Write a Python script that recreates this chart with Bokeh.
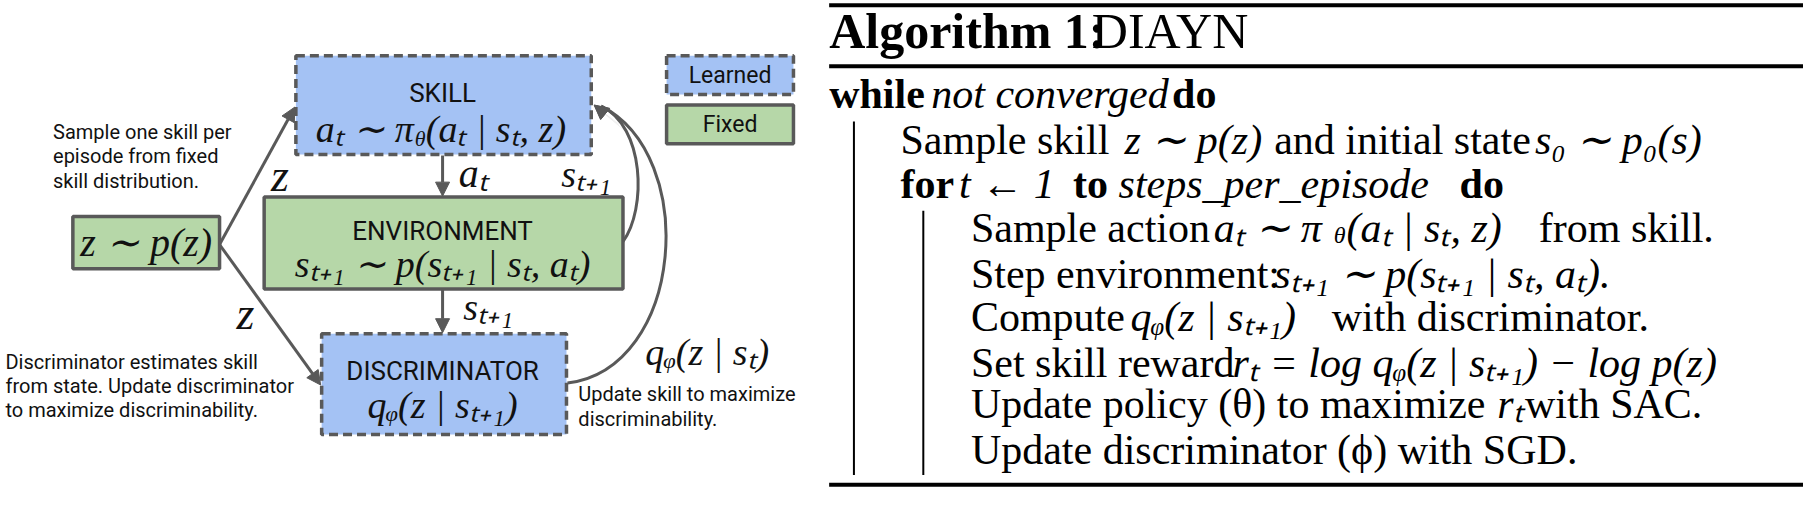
from bokeh.plotting import figure
from bokeh.models import Range1d, Arrow, NormalHead
from bokeh.core.properties import value
from bokeh.embed import file_html
from bokeh.resources import INLINE

# boxes: name, left, top, right, bottom, kind
box_names = ["skill", "environment", "discriminator", "prior", "learned", "fixed"]
box_left = [298, 266, 324, 73, 672, 672]
box_top = [57, 203, 344, 223, 57, 108]
box_right = [596, 628, 571, 221, 800, 800]
box_bottom = [159, 298, 448, 277, 97, 148]
box_kind = ["learned", "fixed", "learned", "fixed", "learned", "fixed"]

BLUE = "#a4c2f4"
GREEN = "#b6d7a8"
EDGE = "#595959"

SANS = "Roboto"
MATH = "Liberation Serif"
SERIF = "Liberation Serif"

p = figure(width=1803, height=492, output_backend="svg", toolbar_location=None,
           x_range=Range1d(0, 1819), y_range=Range1d(508, 0), min_border=0)
p.axis.visible = False
p.grid.visible = False
p.outline_line_color = None


def put(x, y, s, size, font=SANS, style="normal", align="left", base="middle", color="#111111"):
    p.text(x=[x], y=[y], text=[s], text_font=value(font), text_font_size=value(f"{size}px"),
           text_font_style=style, text_align=align, text_baseline=base, text_color=color)


for n, l, t, r, b, k in zip(box_names, box_left, box_top, box_right, box_bottom, box_kind):
    p.quad(left=[l], right=[r], top=[t], bottom=[b],
           fill_color=BLUE if k == "learned" else GREEN,
           line_color=EDGE, line_width=3.5,
           line_dash="9 5" if k == "learned" else "solid")

# straight arrows
arrow_x0 = [221, 221, 446, 446]
arrow_y0 = [252, 252, 160, 299]
arrow_x1 = [297, 323, 446, 446]
arrow_y1 = [110, 397, 202, 343]
for x0, y0, x1, y1 in zip(arrow_x0, arrow_y0, arrow_x1, arrow_y1):
    p.add_layout(Arrow(end=NormalHead(size=14, fill_color=EDGE, line_color=EDGE),
                       x_start=x0, y_start=y0, x_end=x1, y_end=y1,
                       line_color=EDGE, line_width=3))

# curved feedback arrows
p.bezier(x0=[628, 572], y0=[249, 395], x1=[606, 606], y1=[109, 109],
         cx0=[652, 690], cy0=[215, 380], cx1=[650, 705], cy1=[130, 160],
         line_color=EDGE, line_width=3)
for cx, cy in [(624, 128), (634, 138)]:
    p.add_layout(Arrow(end=NormalHead(size=14, fill_color=EDGE, line_color=EDGE),
                       x_start=cx, y_start=cy, x_end=599, y_end=108,
                       line_color=EDGE, line_width=0.1))

# box texts
put(446, 96, "SKILL", 26, align="center")
put(417, 133, "aₜ ∼ π", 38, MATH, "italic", "right")
put(418, 143, "θ", 22, MATH, "italic")
put(429, 133, "(aₜ | sₜ, z)", 38, MATH, "italic")
put(446, 238, "ENVIRONMENT", 26, align="center")
put(446, 272, "sₜ₊₁ ∼ p(sₜ₊₁ | sₜ, aₜ)", 38, MATH, "italic", "center")
put(446, 383, "DISCRIMINATOR", 26, align="center")
put(446, 418, "qᵩ(z | sₜ₊₁)", 38, MATH, "italic", "center")
put(147, 250, "z ∼ p(z)", 40, MATH, "italic", "center")
put(736, 77, "Learned", 23, align="center")
put(736, 128, "Fixed", 23, align="center")

# arrow labels
put(282, 181, "z", 46, MATH, "italic", "center")
put(247, 323, "z", 46, MATH, "italic", "center")
put(477, 179, "aₜ", 40, MATH, "italic", "center")
put(591, 179, "sₜ₊₁", 38, MATH, "italic", "center")
put(492, 316, "sₜ₊₁", 38, MATH, "italic", "center")
put(713, 363, "qᵩ(z | sₜ)", 38, MATH, "italic", "center")

# captions
cap1 = ["Sample one skill per", "episode from fixed", "skill distribution."]
for i, s in enumerate(cap1):
    put(53, 136 + 25 * i, s, 20)
cap2 = ["Discriminator estimates skill", "from state. Update discriminator", "to maximize discriminability."]
for i, s in enumerate(cap2):
    put(5, 373 + 25 * i, s, 20)
cap3 = ["Update skill to maximize", "discriminability."]
for i, s in enumerate(cap3):
    put(583, 406 + 26 * i, s, 20)

# algorithm block
p.segment(x0=[836, 836, 836], x1=[1819, 1819, 1819], y0=[5, 68, 500], y1=[5, 68, 500],
          line_color="black", line_width=4)
p.segment(x0=[861, 931], x1=[861, 931], y0=[125, 217], y1=[490, 490],
          line_color="black", line_width=2)

# (x, baseline, text, style)
alg_x = [836, 1101,
         836, 939, 1182,
         908, 1134, 1285, 1548,
         908, 967, 1082, 1128, 1472,
         979, 1224, 1345, 1358, 1552,
         979, 1285,
         979, 1140, 1343,
         979, 1243,
         979, 1510, 1538,
         979]
alg_y = [48, 48,
         110, 110, 110,
         157, 157, 157, 157,
         202, 202, 202, 202, 202,
         248, 248, 255, 248, 248,
         295, 295,
         340, 340, 340,
         387, 387,
         430, 430, 430,
         477]
alg_text = ["Algorithm 1:", "DIAYN",
            "while", "not converged", "do",
            "Sample skill", "z ∼ p(z)", "and initial state", "s₀ ∼ p₀(s)",
            "for", "t ← 1", "to", "steps_per_episode", "do",
            "Sample action", "aₜ ∼ π", "θ", "(aₜ | sₜ, z)", "from skill.",
            "Step environment:", "sₜ₊₁ ∼ p(sₜ₊₁ | sₜ, aₜ).",
            "Compute", "qᵩ(z | sₜ₊₁)", "with discriminator.",
            "Set skill reward", "rₜ = log qᵩ(z | sₜ₊₁) − log p(z)",
            "Update policy (θ) to maximize", "rₜ", "with SAC.",
            "Update discriminator (ϕ) with SGD."]
alg_style = ["bold", "normal",
             "bold", "italic", "bold",
             "normal", "italic", "normal", "italic",
             "bold", "italic", "bold", "italic", "bold",
             "normal", "italic", "italic", "italic", "normal",
             "normal", "italic",
             "normal", "italic", "normal",
             "normal", "italic",
             "normal", "italic", "normal",
             "normal"]
for x, y, s, st in zip(alg_x, alg_y, alg_text, alg_style):
    size = 50 if y == 48 else (24 if s == "θ" else 42)
    put(x, y - (16 if y == 48 else 13), s, size, SERIF, st, "left", "middle", "black")

open("out.html", "w").write(file_html(p, INLINE))
